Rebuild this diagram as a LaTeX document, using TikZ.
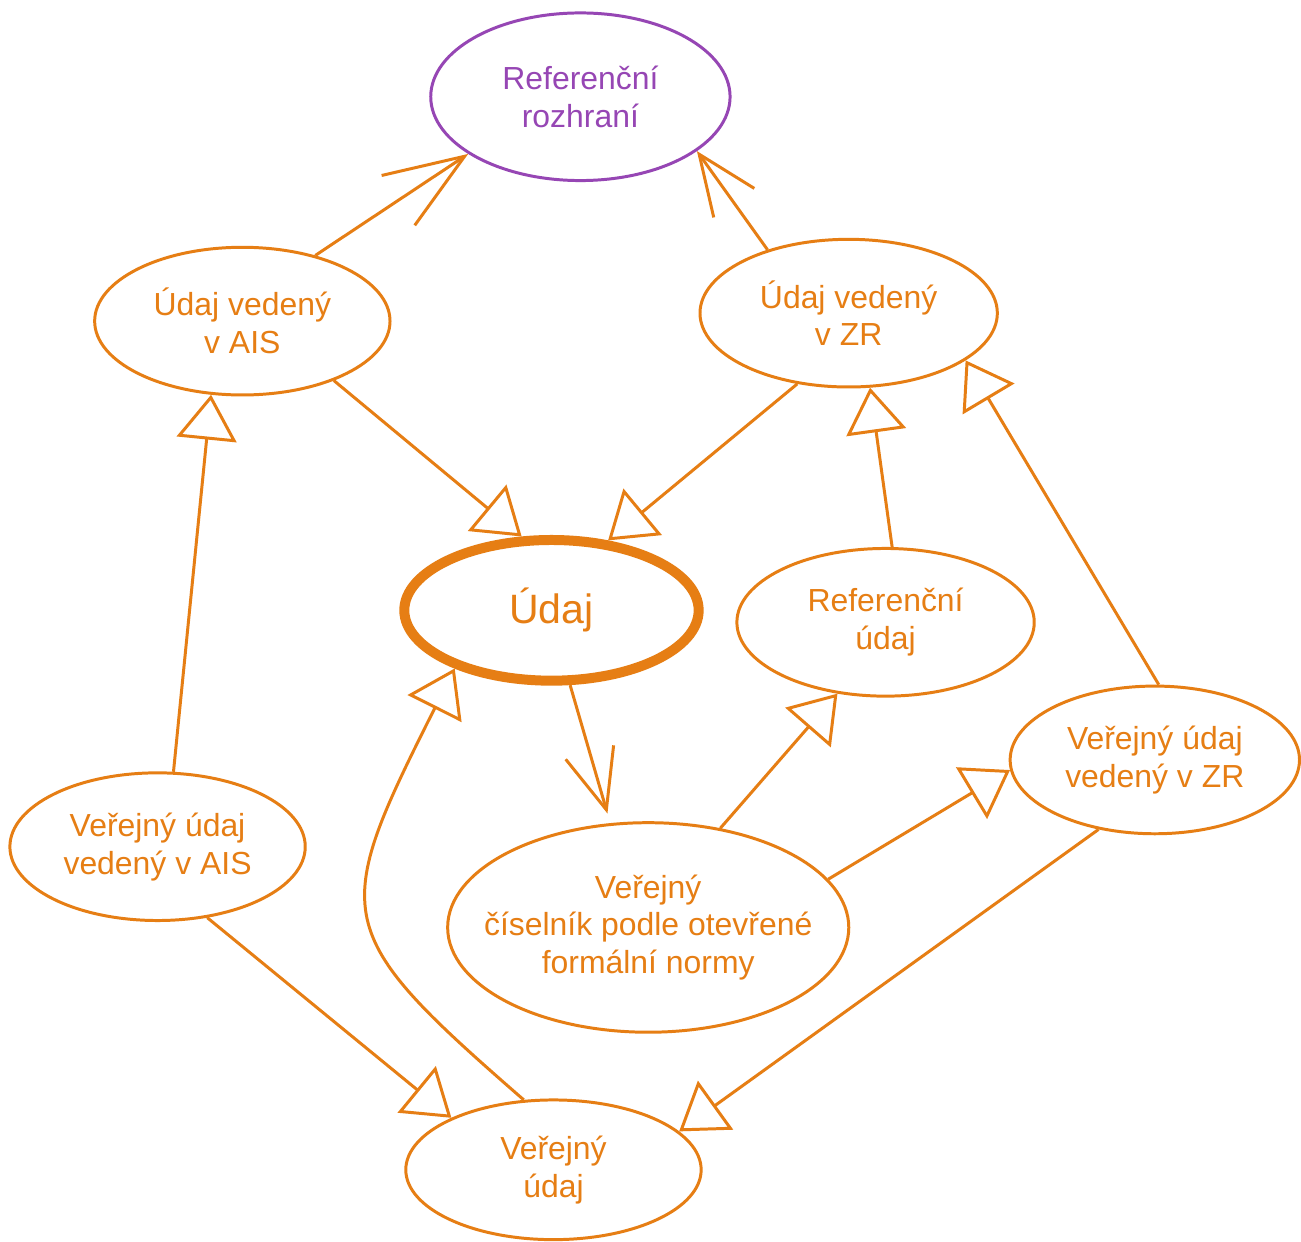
\documentclass[tikz,border=0pt]{standalone}
\usepackage{fontspec}
\setmainfont{Liberation Sans}
\usetikzlibrary{shapes.geometric,arrows.meta}
\definecolor{oranzova}{RGB}{230,126,20}
\definecolor{fialova}{RGB}{150,70,180}

\begin{document}
\begin{tikzpicture}[x=0.01cm, y=-0.01cm,
  every node/.style={ellipse, draw=oranzova, text=oranzova, line width=0.85pt, inner sep=0pt, align=center,
    minimum width=2.96cm, minimum height=1.48cm, font=\fontsize{9.1}{10.8}\selectfont},
  dedi/.style={draw=oranzova, line width=0.85pt, -{Triangle[open, length=4.5mm, width=6mm]}},
  vede/.style={draw=oranzova, line width=0.85pt, -{Straight Barb[length=6mm, width=5mm]}}]
\fill[white] (0,0) rectangle (1301,1242);

\node[draw=fialova, text=fialova, minimum width=3cm, minimum height=1.68cm] (rozhrani) at (582,97) {Referenční\\rozhraní};
\node (ais) at (243,322) {Údaj vedený\\v AIS};
\node[minimum width=2.98cm] (zr) at (851,314) {Údaj vedený\\v ZR};
\node[line width=2.85pt, minimum width=2.95cm, minimum height=1.41cm, font=\fontsize{11.7}{14}\selectfont] (udaj) at (553,612) {Údaj};
\node[minimum width=2.98cm] (refudaj) at (888,624) {Referenční\\údaj};
\node[minimum width=2.9cm] (verzr) at (1158,762) {Veřejný údaj\\vedený v ZR};
\node (verais) at (158,849) {Veřejný údaj\\vedený v AIS};
\node[minimum width=4.02cm, minimum height=2.1cm, inner xsep=-8pt] (ciselnik) at (650,930) {Veřejný\\číselník podle otevřené\\formální normy};
\node[minimum height=1.4cm] (verudaj) at (555,1173) {Veřejný\\údaj};

\draw[vede, -{Straight Barb[length=8mm, width=6mm]}] (ais.42) -- (rozhrani.207);
\draw[vede] (zr.142) -- (rozhrani.-25);
\draw[dedi] (ais.-33) -- (udaj.112);
\draw[dedi] (zr.234) -- (udaj.51);
\draw[vede, shorten >=0.1cm] (udaj.-76) -- (ciselnik.110);
\draw[dedi] (ciselnik.54) -- (refudaj.236);
\draw[dedi] (refudaj.85) -- (zr.-74);
\draw[dedi] (verzr.87) -- (zr.-22);
\draw[dedi] (ciselnik.15) -- (verzr.184);
\draw[dedi] (verais.78) -- (ais.247);
\draw[dedi] (verais.-55) -- (verudaj.153);
\draw[dedi] (verzr.231) -- (verudaj.17);
\draw[dedi] (verudaj.113) .. controls (330,933) and (331,919) .. (udaj.211);
\end{tikzpicture}
\end{document}
